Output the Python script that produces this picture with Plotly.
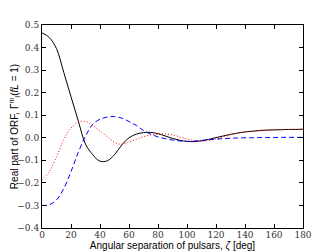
import plotly.graph_objects as go

angles = list(range(0, 181, 5))

black_vals = [0.465, 0.445, 0.395, 0.29, 0.182, 0.075, -0.028, -0.075, -0.104, -0.102,
              -0.075, -0.032, 0.0, 0.016, 0.023, 0.024, 0.018, 0.008, -0.003, -0.011,
              -0.016, -0.017, -0.013, -0.007, 0.001, 0.008, 0.015, 0.021, 0.026, 0.029,
              0.032, 0.034, 0.035, 0.036, 0.037, 0.037, 0.038]

red_vals = [-0.187, -0.15, -0.085, -0.008, 0.043, 0.07, 0.072, 0.055, 0.03, 0.005,
            -0.02, -0.029, -0.019, -0.006, 0.005, 0.012, 0.017, 0.017, 0.013, 0.004,
            -0.005, -0.012, -0.016, -0.012, -0.005, 0.004, 0.013, 0.021, 0.026, 0.029,
            0.032, 0.034, 0.035, 0.036, 0.037, 0.037, 0.038]

blue_vals = [-0.3, -0.297, -0.275, -0.225, -0.15, -0.065, 0.007, 0.06, 0.082, 0.092,
             0.094, 0.087, 0.072, 0.055, 0.032, 0.016, 0.004, -0.004, -0.01, -0.014,
             -0.016, -0.015, -0.012, -0.009, -0.006, -0.004, -0.002, -0.001, 0.0, 0.0,
             0.001, 0.001, 0.001, 0.002, 0.002, 0.002, 0.002]

x_ticks = list(range(0, 181, 20))
y_ticks = [-0.4, -0.3, -0.2, -0.1, 0.0, 0.1, 0.2, 0.3, 0.4, 0.5]

fig = go.Figure()
fig.add_trace(go.Scatter(x=angles, y=black_vals, mode="lines",
                         line=dict(color="black", width=1, shape="spline")))
fig.add_trace(go.Scatter(x=angles, y=red_vals, mode="lines",
                         line=dict(color="red", width=1, dash="1px,2px", shape="spline")))
fig.add_trace(go.Scatter(x=angles, y=blue_vals, mode="lines",
                         line=dict(color="blue", width=1, dash="5px,3px", shape="spline")))

tickfont = dict(family="DejaVu Serif, Liberation Serif, serif", size=9, color="#333333")
titlefont = dict(family="Liberation Sans, Arial, sans-serif", size=10, color="black")

# page has an 8px body margin, so the figure is drawn 8px in from the top-left
fig.update_layout(
    width=328, height=244,
    margin=dict(l=34, r=33, t=17, b=24),
    paper_bgcolor="white", plot_bgcolor="white",
    showlegend=False,
    xaxis=dict(range=[0, 180], tickvals=x_ticks, ticks="inside", ticklen=4,
               tickcolor="black", showline=True, linecolor="black", linewidth=1,
               mirror="ticks", showgrid=False, zeroline=False, tickfont=tickfont,
               automargin=False, ticklabelstandoff=-2,
               title=dict(text="Angular separation of pulsars, <i>ζ</i> [deg]",
                          font=titlefont, standoff=3)),
    yaxis=dict(range=[-0.4, 0.5], tickvals=y_ticks, tickformat=".1f", ticks="inside",
               ticklen=4, tickcolor="black", showline=True, linecolor="black",
               linewidth=1, mirror="ticks", showgrid=False, zeroline=False,
               tickfont=tickfont, automargin=False,
               title=dict(text="Real part of ORF, Γ<sup>m</sup><sub>I</sub>(<i>fL</i> = 1)",
                          font=titlefont, standoff=1)),
)

fig.write_html("out.html")
